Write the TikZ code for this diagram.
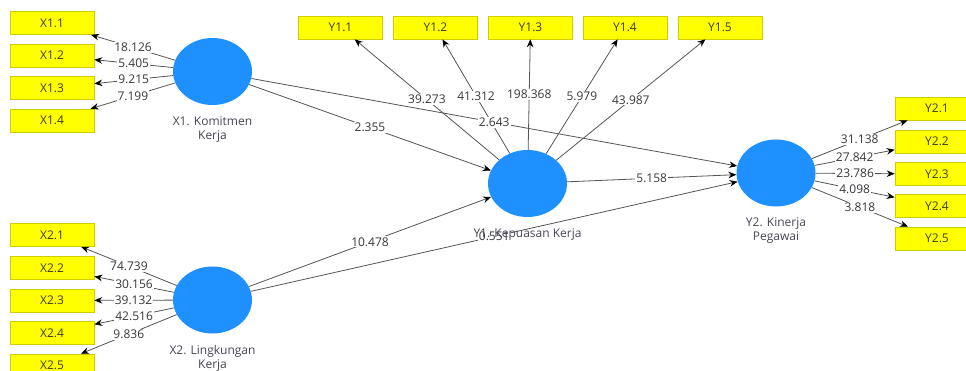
\documentclass[tikz,border=0pt]{standalone}
\usepackage{fontspec}
\setmainfont{Open Sans}
\usepackage{tikz}
\usetikzlibrary{shapes.geometric, arrows.meta, positioning}
\definecolor{lvblue}{RGB}{30,144,255}
\definecolor{mvyellow}{RGB}{255,255,0}
\definecolor{mvedge}{RGB}{205,205,0}
\definecolor{mvtext}{RGB}{60,60,30}
\definecolor{linkgray}{RGB}{85,85,85}
\definecolor{coefgray}{RGB}{55,55,60}
\definecolor{namegray}{RGB}{70,70,85}
\newcommand{\plsfont}{\fontsize{12}{14}\selectfont}
\tikzset{
  latent/.style={ellipse, fill=lvblue, draw=none,
    minimum width=79pt, minimum height=67pt, inner sep=0pt},
  indicator/.style={rectangle, draw=mvedge, fill=mvyellow,
    minimum width=84pt, minimum height=23pt, inner sep=0pt,
    text=mvtext, font=\plsfont, line width=0.6pt},
  lvname/.style={align=center, text=namegray, font=\plsfont,
    inner sep=0pt},
  coef/.style={fill=white, inner sep=1pt, text=coefgray, font=\plsfont},
  arrow/.style={-{Stealth[length=8pt, width=6.5pt, color=black]},
    line width=0.8pt, color=linkgray}
}

\begin{document}
\begin{tikzpicture}[x=1pt, y=-1pt]
  \useasboundingbox (0,0) rectangle (966,371);

  % ── Latent variables ──────────────────────────────────────────────
  \node[latent] (x1) at (212.5, 71.5) {};
  \node[latent] (x2) at (212.5, 300) {};
  \node[latent] (y1) at (527.5, 183.5) {};
  \node[latent] (y2) at (776, 173) {};

  % ── Indicators of X1 ──────────────────────────────────────────────
  \node[indicator] (x11) at (52, 23)    {X1.1};
  \node[indicator] (x12) at (52, 55.5)  {X1.2};
  \node[indicator] (x13) at (52, 88)    {X1.3};
  \node[indicator] (x14) at (52, 120.5) {X1.4};

  % ── Indicators of X2 ──────────────────────────────────────────────
  \node[indicator] (x21) at (52, 235)   {X2.1};
  \node[indicator] (x22) at (52, 268)   {X2.2};
  \node[indicator] (x23) at (52, 300.5) {X2.3};
  \node[indicator] (x24) at (52, 333)   {X2.4};
  \node[indicator] (x25) at (52, 365.5) {X2.5};

  % ── Indicators of Y1 ──────────────────────────────────────────────
  \node[indicator] (y11) at (340.5, 27.5) {Y1.1};
  \node[indicator] (y12) at (435.5, 27.5) {Y1.2};
  \node[indicator] (y13) at (530.5, 27.5) {Y1.3};
  \node[indicator] (y14) at (625, 27.5)   {Y1.4};
  \node[indicator] (y15) at (720, 27.5)   {Y1.5};

  % ── Indicators of Y2 ──────────────────────────────────────────────
  \node[indicator] (y21) at (937, 108.5) {Y2.1};
  \node[indicator] (y22) at (937, 141.5) {Y2.2};
  \node[indicator] (y23) at (937, 174)   {Y2.3};
  \node[indicator] (y24) at (937, 206)   {Y2.4};
  \node[indicator] (y25) at (937, 238.5) {Y2.5};

  % ── Outer model loadings ──────────────────────────────────────────
  \draw[arrow] (x1) -- node[coef] {18.126} (x11);
  \draw[arrow] (x1) -- node[coef] {5.405}  (x12);
  \draw[arrow] (x1) -- node[coef] {9.215}  (x13);
  \draw[arrow] (x1) -- node[coef] {7.199}  (x14);

  \draw[arrow] (x2) -- node[coef] {74.739} (x21);
  \draw[arrow] (x2) -- node[coef] {30.156} (x22);
  \draw[arrow] (x2) -- node[coef] {39.132} (x23);
  \draw[arrow] (x2) -- node[coef] {42.516} (x24);
  \draw[arrow] (x2) -- node[coef] {9.836}  (x25);

  \draw[arrow] (y1) -- node[coef] {39.273}  (y11);
  \draw[arrow] (y1) -- node[coef] {41.312}  (y12);
  \draw[arrow] (y1) -- node[coef] {198.368} (y13);
  \draw[arrow] (y1) -- node[coef] {5.979}   (y14);
  \draw[arrow] (y1) -- node[coef] {43.987}  (y15);

  \draw[arrow] (y2) -- node[coef] {31.138} (y21);
  \draw[arrow] (y2) -- node[coef] {27.842} (y22);
  \draw[arrow] (y2) -- node[coef] {23.786} (y23);
  \draw[arrow] (y2) -- node[coef] {4.098}  (y24);
  \draw[arrow] (y2) -- node[coef] {3.818}  (y25);

  % ── Inner model paths ─────────────────────────────────────────────
  \draw[arrow] (x1) -- node[coef] {2.355}  (y1);
  \draw[arrow] (x1) -- node[coef] {2.643}  (y2);
  \draw[arrow] (x2) -- node[coef] {10.478} (y1);
  \draw[arrow] (x2) -- node[coef] {0.551}  (y2);
  \draw[arrow] (y1) -- node[coef] {5.158}  (y2);

  % ── Construct names ───────────────────────────────────────────────
  \node[lvname, below=11pt of x1] (x1name) {X1. Komitmen\\Kerja};
  \node[lvname, below=11pt of x2] (x2name) {X2. Lingkungan\\Kerja};
  \node[lvname, below=11pt of y1] (y1name) {Y1. Kepuasan Kerja};
  \node[lvname, below=11pt of y2] (y2name) {Y2. Kinerja\\Pegawai};
\end{tikzpicture}
\end{document}
